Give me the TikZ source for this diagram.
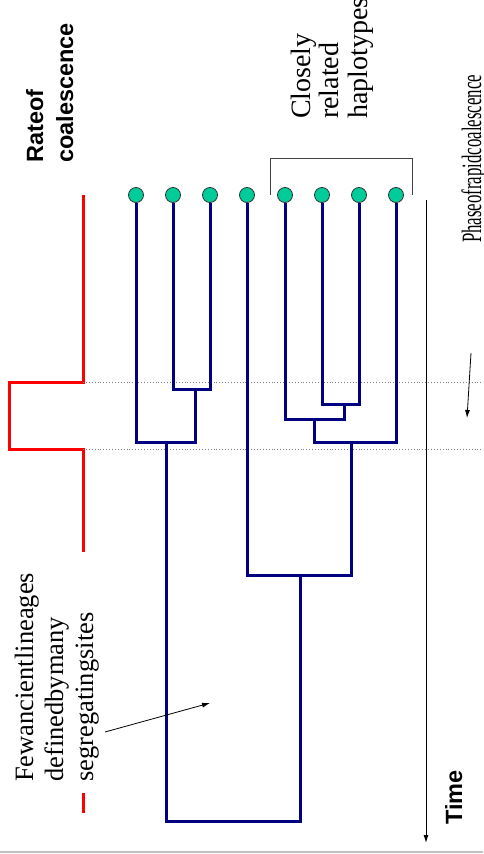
\documentclass[tikz,border=0pt]{standalone}
\usepackage{fontspec}
\setmainfont{Liberation Serif}
\setsansfont{Liberation Sans}
\newfontfamily\narrowserif[FakeStretch=0.6]{Liberation Serif}
\usepackage{tikz}
\usetikzlibrary{calc,positioning,arrows.meta}
\definecolor{treeblue}{RGB}{0,0,128}
\definecolor{leafgreen}{RGB}{0,204,153}

\begin{document}
\begin{tikzpicture}[x=1pt,y=-1pt,
    branch/.style={line width=3pt,treeblue},
    leaf/.style={circle,draw=black!80,fill=leafgreen,line width=0.8pt,minimum size=15pt,inner sep=0pt},
    rate/.style={line width=3pt,red},
    guide/.style={gray,dotted,line width=0.9pt},
    note/.style={-{Latex[length=8pt,width=5pt]},line width=0.8pt},
    serifnote/.style={rotate=90,anchor=base west,align=left,inner sep=0pt,font=\fontsize{26.5}{30}\selectfont},
    sanslabel/.style={rotate=90,anchor=base west,align=left,inner sep=0pt,font=\sffamily\bfseries\fontsize{23.5}{30}\selectfont}]
  \useasboundingbox (0,0) rectangle (483,854);
  \draw[lightgray,line width=2pt] (0,852) -- (483,852);

  \draw[rate] (83,195) -- (83,382) -- (9,382) -- (9,449) -- (83,449) -- (83,552);
  \draw[rate] (83,793) -- (83,813);
  \draw[guide] (83,382) -- (483,382);
  \draw[guide] (83,449) -- (483,449);

  \foreach \i/\x in {1/136,2/173,3/210,4/247,5/285,6/322,7/359,8/396}
    \node[leaf] (h\i) at (\x,195) {};

  \coordinate (j23) at (195,389);
  \coordinate (j1) at (166,442);
  \coordinate (j67) at (344,404);
  \coordinate (j5) at (314,419);
  \coordinate (j8) at (351,442);
  \coordinate (j4) at (300,575);
  \coordinate (jr) at (233,821);

  \draw[branch] (h2) |- (j23) -| (h3);
  \draw[branch] (h1) |- (j1) -| (j23);
  \draw[branch] (h6) |- (j67) -| (h7);
  \draw[branch] (h5) |- (j5) -| (j67);
  \draw[branch] (j5) |- (j8) -| (h8);
  \draw[branch] (h4) |- (j4) -| (j8);
  \draw[branch] (j1) |- (jr) -| (j4);

  \coordinate (brl) at (270,195);
  \coordinate (brr) at (412,195);
  \draw[black!75,line width=1pt] (brl) -- ++(0,-37) -| (brr);

  \coordinate (ttop) at (426,200);
  \coordinate (tbot) at (426,843);
  \draw[note,line width=1pt] (ttop) -- (tbot);

  \node[sanslabel] (rate) at (73,163) {Rateof\\coalescence};
  \node[serifnote,font=\fontsize{28}{28.5}\selectfont] (close) at (367,119) {Closely\\related\\haplotypes};
  \node[serifnote] (few) at (93,782) {Fewancientlineages\\definedbymany\\segregatingsites};
  \node[serifnote,font=\narrowserif\fontsize{28}{30}\selectfont] (phase) at (481,243) {Phaseofrapidcoalescence};
  \node[sanslabel] (time) at (462,825) {Time};

  \coordinate (fewtail) at (105,732);
  \coordinate (fewtip) at (210,703);
  \draw[note] (fewtail) -- (fewtip);
  \coordinate (phasetail) at (471,353);
  \coordinate (phasetip) at (467,418);
  \draw[note] (phasetail) -- (phasetip);
\end{tikzpicture}
\end{document}
